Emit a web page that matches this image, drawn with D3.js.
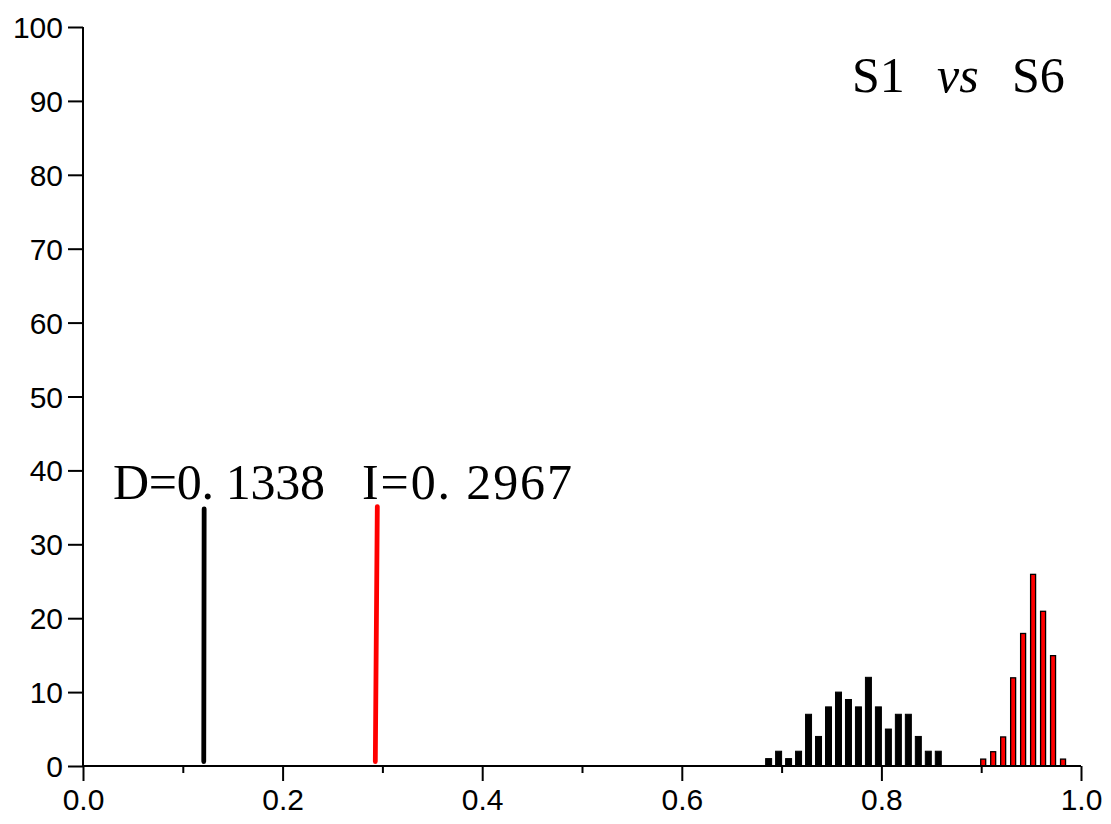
<!DOCTYPE html>
<html><head><meta charset="utf-8">
<script src="https://cdn.jsdelivr.net/npm/d3@7"></script>
<style>html,body{margin:0;padding:0;background:#fff;}svg{display:block;}</style>
</head><body>
<svg id="c" width="1111" height="824"></svg>
<script>
// Histogram bins (bar centres) and counts
const blackX = [0.687,0.697,0.707,0.717,0.727,0.737,0.747,0.757,0.767,0.777,0.787,0.797,0.807,0.817,0.827,0.837,0.847,0.857];
const blackY = [1,2,1,2,7,4,8,10,9,8,12,8,5,7,7,4,2,2];
const redX = [0.902,0.912,0.922,0.932,0.942,0.952,0.962,0.972,0.982];
const redY = [1,2,4,12,18,26,21,15,1];
// Observed values (vertical lines): bottom x, top x, height
const lineX0 = [0.1210, 0.2929];
const lineX1 = [0.1214, 0.2949];
const lineTop = [34.8, 35.1];
const lineBottom = [0.6, 0.6];
const lineColors = ["#000000", "#ff0000"];
const xTicks = [0.0,0.2,0.4,0.6,0.8,1.0];
const xMinor = [0.1,0.3,0.5,0.7,0.9];
const yTicks = [0,10,20,30,40,50,60,70,80,90,100];

const svg = d3.select("#c");
const x = d3.scaleLinear().domain([0,1]).range([83,1081]);
const y = d3.scaleLinear().domain([0,100]).range([766,27]);
const bw = x(0.006)-x(0);

// bars
svg.append("g").selectAll("rect").data(blackX.map((v,i)=>({x:v,y:blackY[i]}))).join("rect")
  .attr("x",d=>x(d.x)-bw/2).attr("width",bw)
  .attr("y",d=>y(d.y)).attr("height",d=>y(0)-y(d.y))
  .attr("fill","#000").attr("stroke","#000").attr("stroke-width",1);
svg.append("g").selectAll("rect").data(redX.map((v,i)=>({x:v,y:redY[i]}))).join("rect")
  .attr("x",d=>x(d.x)-bw/2+0.5).attr("width",bw-1)
  .attr("y",d=>y(d.y)+0.5).attr("height",d=>y(0)-y(d.y)-0.5)
  .attr("fill","#ff0000").attr("stroke","#000").attr("stroke-width",1.3);

// observed lines
svg.append("g").selectAll("line").data(lineX0.map((v,i)=>i)).join("line")
  .attr("x1",i=>x(lineX0[i])).attr("y1",i=>y(lineBottom[i]))
  .attr("x2",i=>x(lineX1[i])).attr("y2",i=>y(lineTop[i]))
  .attr("stroke",i=>lineColors[i]).attr("stroke-width",4.8).attr("stroke-linecap","round");

// axes
const font = "'Liberation Sans', Arial, sans-serif";
const xAxis = svg.append("g").attr("transform","translate(0,766)")
  .call(d3.axisBottom(x).tickValues(xTicks).tickFormat(d3.format(".1f")).tickSize(15).tickPadding(10));
const xm = svg.append("g").attr("transform","translate(0,766)")
  .call(d3.axisBottom(x).tickValues(xMinor).tickFormat("").tickSize(7));
xm.select(".domain").remove();
const yAxis = svg.append("g").attr("transform","translate(83,0)")
  .call(d3.axisLeft(y).tickValues(yTicks).tickSize(15).tickPadding(5));
[xAxis,xm,yAxis].forEach(g=>{
  g.selectAll("path.domain").attr("stroke","#000").attr("stroke-width",2).attr("d", null);
  g.selectAll(".tick line").attr("stroke","#000").attr("stroke-width",2);
  g.selectAll("text").attr("font-family",font).attr("font-size",30).attr("fill","#000");
});
xAxis.select(".domain").attr("d","M83,0H1081");
yAxis.select(".domain").attr("d","M0,27V766");
xAxis.selectAll("text").attr("dy","0.62em");
yAxis.selectAll("text").attr("dy","0.35em");

// annotations
const serif = "'Liberation Serif','Times New Roman',serif";
svg.append("text").attr("x",113).attr("y",499).attr("font-family",serif).attr("font-size",50)
  .attr("textLength",212).attr("lengthAdjust","spacing").text("D=0. 1338");
svg.append("text").attr("x",362).attr("y",499).attr("font-family",serif).attr("font-size",50)
  .attr("textLength",210).attr("lengthAdjust","spacing").text("I=0. 2967");
const t = svg.append("text").attr("y",92).attr("font-family",serif).attr("font-size",50);
t.append("tspan").attr("x",852).text("S1");
t.append("tspan").attr("x",937).attr("font-style","italic").text("vs");
t.append("tspan").attr("x",1012).text("S6");
</script>
</body></html>
